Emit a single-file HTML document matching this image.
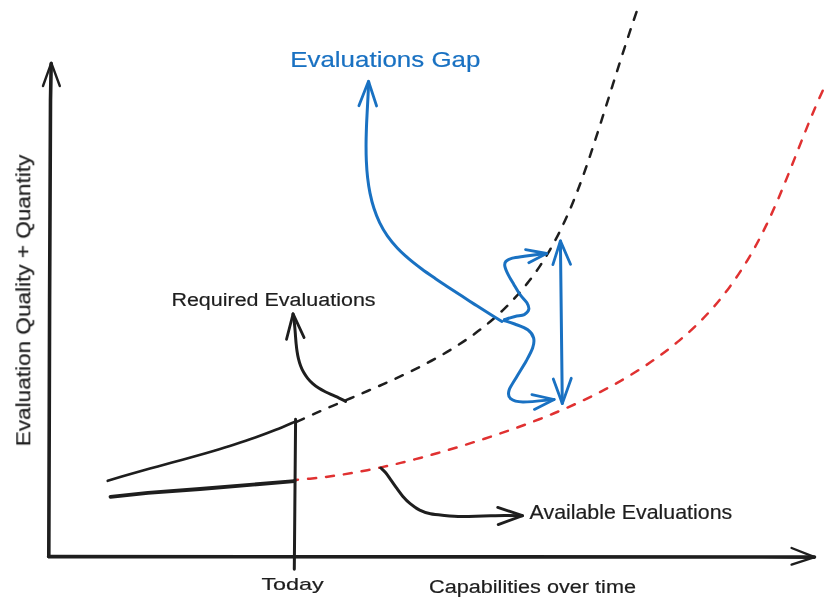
<!DOCTYPE html>
<html><head><meta charset="utf-8"><style>
html,body{margin:0;padding:0;background:#fff;}
body{width:835px;height:610px;overflow:hidden;}
svg{display:block;}
text{font-family:"Liberation Sans", sans-serif;stroke-width:0.2px;}
</style></head><body>
<svg width="835" height="610" viewBox="0 0 835 610">
<rect width="835" height="610" fill="#ffffff"/>
<path d="M294.65 479.99 C298.74 479.61 311.07 478.65 319.19 477.73 C327.32 476.80 335.38 475.69 343.40 474.44 C351.43 473.19 359.40 471.77 367.34 470.22 C375.28 468.68 383.17 466.98 391.05 465.18 C398.92 463.37 406.75 461.43 414.57 459.40 C422.39 457.37 430.18 455.22 437.97 453.00 C445.75 450.78 453.51 448.45 461.27 446.07 C469.04 443.69 476.80 441.24 484.54 438.70 C492.28 436.17 500.03 433.58 507.73 430.89 C515.44 428.19 523.13 425.42 530.76 422.52 C538.39 419.62 546.00 416.63 553.53 413.50 C561.06 410.37 568.55 407.13 575.96 403.74 C583.36 400.34 590.71 396.82 597.95 393.13 C605.19 389.44 612.37 385.60 619.42 381.58 C626.48 377.56 633.45 373.38 640.28 368.99 C647.11 364.61 653.85 360.05 660.39 355.27 C666.93 350.50 673.35 345.53 679.53 340.34 C685.72 335.14 691.74 329.75 697.49 324.11 C703.24 318.48 708.77 312.60 714.04 306.53 C719.32 300.45 724.34 294.13 729.15 287.64 C733.95 281.16 738.51 274.46 742.86 267.63 C747.21 260.80 751.33 253.78 755.26 246.66 C759.18 239.54 762.87 232.25 766.43 224.91 C769.99 217.56 773.33 210.08 776.61 202.58 C779.89 195.08 783.01 187.48 786.11 179.90 C789.21 172.32 792.19 164.68 795.20 157.09 C798.21 149.50 801.16 141.89 804.18 134.36 C807.20 126.84 810.21 119.33 813.34 111.95 C816.47 104.57 821.36 93.72 822.97 90.07" stroke="#e03131" stroke-width="2.5" fill="none" stroke-linecap="round" stroke-linejoin="round" stroke-dasharray="8 10" stroke-dashoffset="4.5"/>
<path d="M296.58 421.82 C299.51 420.50 308.26 416.48 314.17 413.87 C320.07 411.25 326.04 408.70 332.02 406.13 C338.00 403.57 344.02 401.04 350.04 398.48 C356.06 395.92 362.10 393.37 368.12 390.77 C374.15 388.17 380.18 385.55 386.18 382.86 C392.17 380.16 398.16 377.43 404.10 374.60 C410.04 371.77 415.95 368.88 421.79 365.86 C427.63 362.85 433.44 359.75 439.15 356.51 C444.86 353.26 450.52 349.91 456.05 346.40 C461.59 342.89 467.04 339.26 472.34 335.45 C477.64 331.64 482.84 327.69 487.86 323.55 C492.87 319.42 497.75 315.10 502.44 310.63 C507.14 306.15 511.67 301.49 516.01 296.69 C520.36 291.89 524.53 286.92 528.51 281.82 C532.49 276.72 536.29 271.46 539.89 266.09 C543.49 260.71 546.89 255.19 550.13 249.58 C553.37 243.96 556.43 238.21 559.35 232.39 C562.28 226.58 565.04 220.65 567.70 214.66 C570.36 208.68 572.87 202.61 575.31 196.50 C577.74 190.39 580.06 184.21 582.31 178.01 C584.57 171.82 586.73 165.57 588.85 159.33 C590.98 153.08 593.03 146.81 595.07 140.56 C597.10 134.30 599.10 128.05 601.08 121.81 C603.07 115.57 605.03 109.34 607.00 103.12 C608.96 96.89 610.91 90.68 612.87 84.47 C614.83 78.27 616.78 72.07 618.75 65.87 C620.73 59.68 622.71 53.49 624.72 47.31 C626.73 41.12 628.76 34.94 630.82 28.76 C632.89 22.58 636.08 13.32 637.13 10.23" stroke="#1e1e1e" stroke-width="2.5" fill="none" stroke-linecap="round" stroke-linejoin="round" stroke-dasharray="8 10"/>
<path d="M48.80 556.50 L49.60 300.00 L50.50 100.00 L51.20 63.50" stroke="#1e1e1e" stroke-width="3.6" fill="none" stroke-linecap="round" stroke-linejoin="round"/>
<path d="M43.00 86.00 L51.30 62.80 L59.80 86.00" stroke="#1e1e1e" stroke-width="2.4" fill="none" stroke-linecap="round" stroke-linejoin="round"/>
<path d="M48.60 556.60 L814.50 557.10" stroke="#1e1e1e" stroke-width="3.6" fill="none" stroke-linecap="round" stroke-linejoin="round"/>
<path d="M791.60 548.00 L814.70 557.10 L791.60 564.60" stroke="#1e1e1e" stroke-width="2.4" fill="none" stroke-linecap="round" stroke-linejoin="round"/>
<path d="M295.60 419.20 L294.30 569.30" stroke="#1e1e1e" stroke-width="3" fill="none" stroke-linecap="round" stroke-linejoin="round"/>
<path d="M107.74 480.80 C111.25 479.75 121.76 476.56 128.80 474.52 C135.83 472.49 142.89 470.53 149.95 468.58 C157.01 466.62 164.08 464.72 171.15 462.78 C178.21 460.85 185.28 458.93 192.33 456.96 C199.38 454.98 206.42 453.00 213.44 450.93 C220.46 448.86 227.46 446.75 234.43 444.52 C241.39 442.28 248.34 439.99 255.24 437.54 C262.13 435.09 269.00 432.54 275.81 429.81 C282.62 427.09 292.71 422.61 296.10 421.17" stroke="#1e1e1e" stroke-width="2.6" fill="none" stroke-linecap="round" stroke-linejoin="round"/>
<path d="M110.50 496.90 L147.90 492.80 L200.00 489.00 L252.70 484.60 L294.50 481.10" stroke="#1e1e1e" stroke-width="3.8" fill="none" stroke-linecap="round" stroke-linejoin="round"/>
<path d="M345.64 401.35 C344.56 400.80 341.37 399.10 339.14 398.03 C336.90 396.97 334.53 396.00 332.22 394.96 C329.90 393.92 327.52 392.92 325.26 391.78 C323.00 390.63 320.74 389.47 318.65 388.11 C316.57 386.75 314.57 385.27 312.75 383.64 C310.93 382.01 309.23 380.23 307.71 378.34 C306.19 376.46 304.82 374.43 303.63 372.32 C302.44 370.22 301.44 367.99 300.58 365.70 C299.71 363.41 299.04 361.02 298.45 358.59 C297.86 356.17 297.43 353.67 297.04 351.16 C296.65 348.65 296.38 346.08 296.12 343.53 C295.86 340.98 295.69 338.40 295.48 335.86 C295.28 333.31 295.12 330.77 294.89 328.28 C294.67 325.80 294.45 323.33 294.14 320.95 C293.82 318.57 293.18 315.16 292.99 314.00" stroke="#1e1e1e" stroke-width="3" fill="none" stroke-linecap="round" stroke-linejoin="round"/>
<path d="M286.50 339.30 L293.10 313.80 L304.10 337.60" stroke="#1e1e1e" stroke-width="2.8" fill="none" stroke-linecap="round" stroke-linejoin="round"/>
<path d="M380.90 468.00 C381.70 468.80 384.02 470.77 385.70 472.80 C387.38 474.83 389.23 477.72 391.00 480.20 C392.77 482.68 394.35 485.03 396.30 487.70 C398.25 490.37 400.38 493.53 402.70 496.20 C405.02 498.87 407.37 501.38 410.20 503.70 C413.03 506.02 416.33 508.42 419.70 510.10 C423.07 511.78 426.30 512.92 430.40 513.80 C434.50 514.68 439.10 514.97 444.30 515.40 C449.50 515.83 455.13 516.30 461.60 516.40 C468.07 516.50 475.92 516.13 483.10 516.00 C490.28 515.87 498.13 515.65 504.70 515.60 C511.27 515.55 519.53 515.68 522.50 515.70" stroke="#1e1e1e" stroke-width="3" fill="none" stroke-linecap="round" stroke-linejoin="round"/>
<path d="M497.70 507.40 L522.50 515.70 L498.20 524.60" stroke="#1e1e1e" stroke-width="2.8" fill="none" stroke-linecap="round" stroke-linejoin="round"/>
<path d="M501.94 321.47 C499.66 320.06 492.76 315.85 488.27 313.04 C483.78 310.24 479.39 307.44 475.00 304.62 C470.60 301.80 466.27 298.98 461.88 296.11 C457.50 293.24 453.13 290.36 448.69 287.42 C444.25 284.47 439.71 281.51 435.22 278.44 C430.74 275.37 426.16 272.26 421.78 269.01 C417.40 265.75 413.02 262.42 408.93 258.91 C404.85 255.41 400.86 251.79 397.27 247.95 C393.67 244.12 390.29 240.12 387.35 235.91 C384.41 231.69 381.85 227.24 379.61 222.65 C377.38 218.05 375.53 213.24 373.93 208.32 C372.32 203.40 371.06 198.31 370.00 193.14 C368.94 187.98 368.18 182.68 367.57 177.34 C366.96 172.01 366.60 166.57 366.35 161.13 C366.09 155.70 366.04 150.20 366.06 144.74 C366.07 139.28 366.24 133.79 366.42 128.37 C366.60 122.96 366.90 117.56 367.16 112.26 C367.42 106.97 367.75 101.72 368.00 96.63 C368.25 91.53 368.54 84.17 368.65 81.68" stroke="#1971c2" stroke-width="3" fill="none" stroke-linecap="round" stroke-linejoin="round"/>
<path d="M358.90 105.70 L368.50 81.20 L376.60 106.00" stroke="#1971c2" stroke-width="2.8" fill="none" stroke-linecap="round" stroke-linejoin="round"/>
<path d="M504.50 319.50 C506.27 319.00 511.80 317.32 515.10 316.50 C518.40 315.68 522.02 315.80 524.30 314.60 C526.58 313.40 528.37 311.27 528.80 309.30 C529.23 307.33 528.32 305.20 526.90 302.80 C525.48 300.40 522.48 297.97 520.30 294.90 C518.12 291.83 515.88 287.90 513.80 284.40 C511.72 280.90 509.30 276.97 507.80 273.90 C506.30 270.83 505.12 268.08 504.80 266.00 C504.48 263.92 504.63 262.72 505.90 261.40 C507.17 260.08 509.33 258.97 512.40 258.10 C515.47 257.23 520.13 256.80 524.30 256.20 C528.47 255.60 533.68 254.95 537.40 254.50 C541.12 254.05 545.07 253.67 546.60 253.50" stroke="#1971c2" stroke-width="3" fill="none" stroke-linecap="round" stroke-linejoin="round"/>
<path d="M525.60 249.60 L546.60 253.50 L528.80 262.70" stroke="#1971c2" stroke-width="2.8" fill="none" stroke-linecap="round" stroke-linejoin="round"/>
<path d="M504.00 320.50 C505.78 321.08 510.73 322.45 514.70 324.00 C518.67 325.55 524.65 327.47 527.80 329.80 C530.95 332.13 532.78 335.00 533.60 338.00 C534.42 341.00 533.93 343.97 532.70 347.80 C531.47 351.63 528.93 356.07 526.20 361.00 C523.47 365.93 519.17 372.48 516.30 377.40 C513.43 382.32 509.95 386.95 509.00 390.50 C508.05 394.05 508.28 396.78 510.60 398.70 C512.92 400.62 515.65 401.87 522.90 402.00 C530.15 402.13 548.90 399.92 554.10 399.50" stroke="#1971c2" stroke-width="3" fill="none" stroke-linecap="round" stroke-linejoin="round"/>
<path d="M531.90 394.60 L554.10 399.50 L534.40 409.40" stroke="#1971c2" stroke-width="2.8" fill="none" stroke-linecap="round" stroke-linejoin="round"/>
<path d="M560.40 240.90 L562.30 403.60" stroke="#1971c2" stroke-width="3" fill="none" stroke-linecap="round" stroke-linejoin="round"/>
<path d="M552.90 264.60 L560.40 240.90 L570.50 264.30" stroke="#1971c2" stroke-width="2.8" fill="none" stroke-linecap="round" stroke-linejoin="round"/>
<path d="M553.30 379.00 L562.30 403.60 L571.30 378.20" stroke="#1971c2" stroke-width="2.8" fill="none" stroke-linecap="round" stroke-linejoin="round"/>
<g style="will-change:transform">
<text x="290.2" y="66.6" font-size="22" fill="#1971c2" stroke="#1971c2" textLength="190.2" lengthAdjust="spacingAndGlyphs">Evaluations Gap</text>
<text x="171.4" y="306.0" font-size="19.2" fill="#1e1e1e" stroke="#1e1e1e" textLength="204.2" lengthAdjust="spacingAndGlyphs">Required Evaluations</text>
<text x="529.6" y="518.8" font-size="19.3" fill="#1e1e1e" stroke="#1e1e1e" textLength="202.6" lengthAdjust="spacingAndGlyphs">Available Evaluations</text>
<text x="261.4" y="590.2" font-size="17" fill="#1e1e1e" stroke="#1e1e1e" textLength="62.4" lengthAdjust="spacingAndGlyphs">Today</text>
<text x="429.0" y="593.4" font-size="18" fill="#1e1e1e" stroke="#1e1e1e" textLength="207.0" lengthAdjust="spacingAndGlyphs">Capabilities over time</text>
<text x="0" y="0" font-size="20.3" fill="#1e1e1e" stroke="#1e1e1e" textLength="291.5" lengthAdjust="spacingAndGlyphs" transform="translate(30.3 446.2) rotate(-90)">Evaluation Quality + Quantity</text>
</g>
</svg>
</body></html>
